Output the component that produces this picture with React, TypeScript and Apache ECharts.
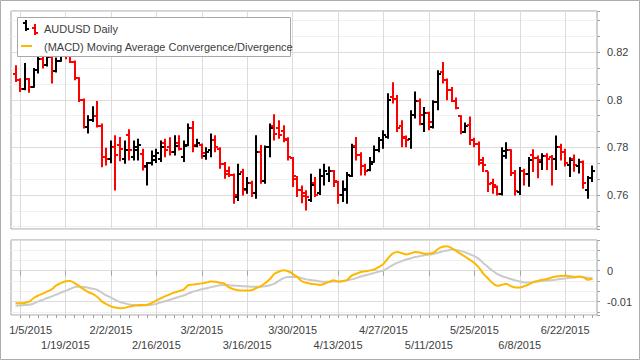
import React, { useEffect, useRef } from 'react';
import * as echarts from 'echarts';

const startDate = '2015-01-02';
const endDate = '2015-06-30';
const tickLabels = ['1/5/2015', '1/19/2015', '2/2/2015', '2/16/2015', '3/2/2015', '3/16/2015', '3/30/2015', '4/13/2015', '4/27/2015', '5/11/2015', '5/25/2015', '6/8/2015', '6/22/2015'];

const opens = [0.8110,0.8085,0.8047,0.8088,0.8055,0.8125,0.8170,0.8145,0.8180,0.8120,
 0.8165,0.8195,0.8185,0.8160,0.8090,0.8000,0.7885,0.7914,0.7930,0.7888,
 0.7760,0.7752,0.7801,0.7810,0.7750,0.7850,0.7760,0.7790,0.7773,0.7720,
 0.7734,0.7745,0.7750,0.7820,0.7800,0.7780,0.7820,0.7760,0.7810,0.7880,
 0.7805,0.7810,0.7765,0.7790,0.7830,0.7795,0.7730,0.7700,0.7685,0.7590,
 0.7695,0.7625,0.7650,0.7610,0.7780,0.7660,0.7800,0.7890,0.7880,0.7870,
 0.7835,0.7755,0.7665,0.7620,0.7610,0.7580,0.7650,0.7610,0.7680,0.7690,
 0.7700,0.7655,0.7598,0.7620,0.7680,0.7805,0.7770,0.7720,0.7705,0.7740,
 0.7787,0.7830,0.7845,0.8010,0.8005,0.7890,0.7845,0.7835,0.7935,0.7995,
 0.7900,0.7945,0.7885,0.7990,0.8115,0.8085,0.8040,0.7995,0.7930,0.7865,
 0.7895,0.7830,0.7815,0.7745,0.7700,0.7650,0.7635,0.7603,0.7765,0.7790,
 0.7692,0.7612,0.7700,0.7690,0.7770,0.7755,0.7738,0.7765,0.7760,0.7750,
 0.7800,0.7780,0.7725,0.7750,0.7720,0.7740,0.7620,0.7670];

const highs = [0.8145,0.8090,0.8155,0.8092,0.8133,0.8187,0.8190,0.8200,0.8215,0.8178,
 0.8210,0.8240,0.8200,0.8165,0.8095,0.8005,0.7935,0.7973,0.7995,0.7900,
 0.7798,0.7829,0.7851,0.7844,0.7829,0.7876,0.7829,0.7836,0.7794,0.7738,
 0.7787,0.7794,0.7829,0.7836,0.7843,0.7851,0.7851,0.7829,0.7900,0.7911,
 0.7836,0.7816,0.7801,0.7858,0.7851,0.7800,0.7738,0.7720,0.7690,0.7731,
 0.7710,0.7675,0.7660,0.7851,0.7810,0.7808,0.7900,0.7939,0.7914,0.7893,
 0.7843,0.7760,0.7680,0.7640,0.7620,0.7689,0.7675,0.7710,0.7731,0.7720,
 0.7705,0.7660,0.7661,0.7696,0.7815,0.7844,0.7780,0.7731,0.7760,0.7808,
 0.7844,0.7872,0.8027,0.8074,0.8020,0.7914,0.7850,0.7956,0.8035,0.8005,
 0.7970,0.7950,0.7998,0.8124,0.8159,0.8089,0.8054,0.8010,0.7935,0.7905,
 0.7930,0.7840,0.7825,0.7760,0.7700,0.7668,0.7640,0.7801,0.7822,0.7792,
 0.7705,0.7717,0.7710,0.7760,0.7792,0.7766,0.7775,0.7775,0.7768,0.7850,
 0.7815,0.7794,0.7758,0.7770,0.7752,0.7745,0.7680,0.7724];

const lows = [0.8075,0.8033,0.8040,0.8029,0.8050,0.8110,0.8131,0.8140,0.8068,0.8115,
 0.8160,0.8170,0.8155,0.8082,0.7991,0.7879,0.7858,0.7907,0.7883,0.7716,
 0.7724,0.7733,0.7619,0.7742,0.7731,0.7745,0.7745,0.7745,0.7703,0.7640,
 0.7724,0.7734,0.7738,0.7759,0.7766,0.7766,0.7787,0.7738,0.7805,0.7780,
 0.7801,0.7752,0.7748,0.7759,0.7780,0.7710,0.7668,0.7675,0.7563,0.7575,
 0.7598,0.7605,0.7591,0.7584,0.7647,0.7647,0.7759,0.7829,0.7836,0.7822,
 0.7745,0.7633,0.7591,0.7565,0.7535,0.7570,0.7591,0.7600,0.7640,0.7655,
 0.7633,0.7563,0.7570,0.7563,0.7675,0.7745,0.7682,0.7682,0.7700,0.7735,
 0.7780,0.7794,0.7836,0.7984,0.7865,0.7801,0.7801,0.7794,0.7921,0.7893,
 0.7865,0.7872,0.7879,0.7956,0.8068,0.7998,0.7991,0.7960,0.7855,0.7860,
 0.7810,0.7800,0.7724,0.7696,0.7612,0.7605,0.7598,0.7598,0.7752,0.7680,
 0.7598,0.7600,0.7640,0.7635,0.7696,0.7670,0.7705,0.7705,0.7640,0.7705,
 0.7745,0.7720,0.7675,0.7698,0.7690,0.7626,0.7584,0.7655];

const closes = [0.8085,0.8047,0.8088,0.8055,0.8125,0.8170,0.8145,0.8180,0.8120,0.8165,
 0.8195,0.8185,0.8160,0.8090,0.8000,0.7885,0.7914,0.7930,0.7888,0.7760,
 0.7752,0.7801,0.7766,0.7795,0.7790,0.7790,0.7800,0.7810,0.7717,0.7734,
 0.7765,0.7775,0.7800,0.7790,0.7780,0.7805,0.7795,0.7805,0.7880,0.7810,
 0.7820,0.7775,0.7780,0.7830,0.7800,0.7730,0.7690,0.7685,0.7600,0.7690,
 0.7620,0.7650,0.7610,0.7780,0.7660,0.7800,0.7880,0.7855,0.7850,0.7830,
 0.7760,0.7680,0.7620,0.7595,0.7590,0.7640,0.7600,0.7680,0.7700,0.7700,
 0.7660,0.7598,0.7626,0.7682,0.7801,0.7770,0.7720,0.7700,0.7730,0.7787,
 0.7830,0.7851,0.8000,0.8005,0.7880,0.7840,0.7830,0.7935,0.7995,0.7935,
 0.7945,0.7905,0.7990,0.8110,0.8085,0.8040,0.7995,0.7965,0.7865,0.7890,
 0.7830,0.7815,0.7735,0.7725,0.7647,0.7640,0.7602,0.7785,0.7790,0.7692,
 0.7615,0.7700,0.7688,0.7745,0.7755,0.7745,0.7765,0.7752,0.7750,0.7800,
 0.7780,0.7735,0.7745,0.7725,0.7740,0.7650,0.7670,0.7700];

const macdLine = [-0.0105,-0.0105,-0.0104,-0.0100,-0.0088,-0.0080,-0.0074,-0.0067,-0.0060,-0.0047,
 -0.0040,-0.0034,-0.0033,-0.0040,-0.0050,-0.0060,-0.0069,-0.0075,-0.0085,-0.0099,
 -0.0108,-0.0115,-0.0119,-0.0121,-0.0120,-0.0116,-0.0113,-0.0111,-0.0111,-0.0110,
 -0.0104,-0.0096,-0.0089,-0.0082,-0.0076,-0.0070,-0.0066,-0.0061,-0.0047,-0.0045,
 -0.0043,-0.0041,-0.0038,-0.0035,-0.0036,-0.0039,-0.0042,-0.0054,-0.0060,-0.0063,
 -0.0064,-0.0064,-0.0063,-0.0056,-0.0050,-0.0040,-0.0027,-0.0010,-0.0003,0.0001,
 -0.0002,-0.0010,-0.0020,-0.0034,-0.0039,-0.0042,-0.0044,-0.0046,-0.0042,-0.0036,
 -0.0031,-0.0035,-0.0034,-0.0030,-0.0016,-0.0010,-0.0004,-0.0002,0.0001,0.0004,
 0.0012,0.0022,0.0040,0.0055,0.0060,0.0057,0.0052,0.0056,0.0060,0.0059,
 0.0055,0.0055,0.0058,0.0070,0.0077,0.0079,0.0073,0.0064,0.0054,0.0045,
 0.0035,0.0025,0.0010,-0.0010,-0.0025,-0.0040,-0.0049,-0.0046,-0.0042,-0.0050,
 -0.0054,-0.0054,-0.0050,-0.0044,-0.0037,-0.0033,-0.0029,-0.0027,-0.0022,-0.0019,
 -0.0017,-0.0016,-0.0018,-0.0020,-0.0019,-0.0021,-0.0029,-0.0026];

const signalLine = [-0.0113,-0.0112,-0.0111,-0.0110,-0.0106,-0.0099,-0.0094,-0.0088,-0.0083,-0.0077,
 -0.0071,-0.0065,-0.0059,-0.0053,-0.0051,-0.0053,-0.0055,-0.0058,-0.0062,-0.0071,
 -0.0080,-0.0087,-0.0095,-0.0101,-0.0105,-0.0109,-0.0111,-0.0113,-0.0112,-0.0111,
 -0.0110,-0.0107,-0.0102,-0.0098,-0.0094,-0.0089,-0.0084,-0.0080,-0.0074,-0.0068,
 -0.0064,-0.0060,-0.0057,-0.0053,-0.0050,-0.0047,-0.0046,-0.0047,-0.0048,-0.0049,
 -0.0050,-0.0051,-0.0052,-0.0052,-0.0052,-0.0050,-0.0047,-0.0042,-0.0032,-0.0024,
 -0.0020,-0.0020,-0.0020,-0.0024,-0.0028,-0.0030,-0.0032,-0.0035,-0.0036,-0.0036,
 -0.0035,-0.0035,-0.0033,-0.0031,-0.0028,-0.0024,-0.0019,-0.0015,-0.0011,-0.0007,
 -0.0003,0.0001,0.0009,0.0018,0.0025,0.0031,0.0036,0.0040,0.0044,0.0047,
 0.0050,0.0052,0.0054,0.0058,0.0062,0.0065,0.0068,0.0067,0.0064,0.0059,
 0.0053,0.0047,0.0038,0.0024,0.0012,0.0000,-0.0010,-0.0017,-0.0022,-0.0027,
 -0.0031,-0.0035,-0.0038,-0.0038,-0.0036,-0.0035,-0.0033,-0.0032,-0.0031,-0.0029,
 -0.0027,-0.0025,-0.0023,-0.0022,-0.0020,-0.0021,-0.0023,-0.0025];

function businessDays(start: string, end: string): string[] {
  const out: string[] = [];
  const d = new Date(start + 'T00:00:00Z');
  const e = new Date(end + 'T00:00:00Z');
  while (d.getTime() <= e.getTime()) {
    const wd = d.getUTCDay();
    if (wd !== 0 && wd !== 6) out.push(`${d.getUTCMonth() + 1}/${d.getUTCDate()}/${d.getUTCFullYear()}`);
    d.setUTCDate(d.getUTCDate() + 1);
  }
  return out;
}

const dates = businessDays(startDate, endDate);
// one empty slot at each end gives the side margin of the original axis
const categories = ['', ...dates, ''];

const FONT = 'Liberation Sans';
const TEXT = '#404040';
const GRIDC = '#dcdcdc';
const MINORC = '#f0f0f0';
const AXISC = '#a0a0a0';

const isMajor = (idx: number) => tickLabels.indexOf(categories[idx]) >= 0;
const isMinor = (idx: number) => idx >= 1 && idx <= dates.length && (idx - 1) % 2 === 1;

export default function App() {
  const ref = useRef<HTMLDivElement>(null);
  useEffect(() => {
    if (!ref.current) return;
    const chart = echarts.init(ref.current, undefined, { renderer: 'svg' });
    const ohlc = dates.map((_, i) => [i + 1, opens[i], highs[i], lows[i], closes[i]]);
    const macdData = macdLine.map((v, i) => [i + 1, v]);
    const signalData = signalLine.map((v, i) => [i + 1, v]);

    const renderOhlc = (params: any, api: any) => {
      const x = api.value(0);
      const o = api.value(1), h = api.value(2), l = api.value(3), c = api.value(4);
      const pH = api.coord([x, h]);
      const pL = api.coord([x, l]);
      const pO = api.coord([x, o]);
      const pC = api.coord([x, c]);
      const px = Math.round(pH[0]);
      const color = c >= o ? '#000000' : '#ff0000';
      const st = { stroke: color, lineWidth: 2 };
      return {
        type: 'group',
        children: [
          { type: 'line', shape: { x1: px, y1: pH[1], x2: px, y2: pL[1] }, style: st },
          { type: 'line', shape: { x1: px - 3, y1: Math.round(pO[1]), x2: px, y2: Math.round(pO[1]) }, style: st },
          { type: 'line', shape: { x1: px, y1: Math.round(pC[1]), x2: px + 3, y2: Math.round(pC[1]) }, style: st },
        ],
      };
    };

    const yLabel = { color: TEXT, fontFamily: FONT, fontSize: 11, margin: 10, showMinLabel: false, showMaxLabel: false };

    const option: any = {
      animation: false,
      backgroundColor: '#ffffff',
      grid: [
        { left: 11, top: 11, width: 586, height: 218, show: true, borderColor: AXISC, borderWidth: 1, backgroundColor: 'transparent', outerBoundsMode: 'none' },
        { left: 11, top: 240, width: 586, height: 75, show: true, borderColor: AXISC, borderWidth: 1, backgroundColor: 'transparent', outerBoundsMode: 'none' },
      ],
      xAxis: [
        {
          type: 'category', gridIndex: 0, data: categories, boundaryGap: false,
          axisLine: { show: false }, axisTick: { show: false }, axisLabel: { show: false },
          splitLine: { show: true, interval: (idx: number) => isMajor(idx), lineStyle: { color: GRIDC, width: 1 } },
        },
        {
          type: 'category', gridIndex: 1, data: categories, boundaryGap: false, position: 'bottom',
          axisLine: { show: false },
          axisTick: { show: true, interval: (idx: number) => isMajor(idx), length: 5, lineStyle: { color: AXISC } },
          axisLabel: {
            show: true, interval: 0, margin: 7, lineHeight: 15, hideOverlap: false,
            color: TEXT, fontFamily: FONT, fontSize: 11,
            formatter: (value: string) => {
              const k = tickLabels.indexOf(value);
              if (k < 0) return '';
              if (k === 0) return '{first|' + value + '}';
              return k % 2 === 0 ? value : '\n' + value;
            },
            rich: {
              first: { padding: [0, 0, 0, 21], color: TEXT, fontFamily: FONT, fontSize: 11, lineHeight: 15 },
            },
          },
          splitLine: { show: true, interval: (idx: number) => isMajor(idx), lineStyle: { color: GRIDC, width: 1 } },
        },
        {
          type: 'category', gridIndex: 1, data: categories, boundaryGap: false, position: 'bottom',
          axisLine: { show: false }, axisLabel: { show: false }, splitLine: { show: false },
          axisTick: { show: true, interval: (idx: number) => isMinor(idx), length: 3, lineStyle: { color: AXISC } },
        },
      ],
      yAxis: [
        {
          type: 'value', gridIndex: 0, position: 'right', min: 0.7457, max: 0.8373, splitNumber: 5, scale: true,
          axisLine: { show: false },
          axisTick: { show: true, length: 3, lineStyle: { color: AXISC } },
          minorTick: { show: true, splitNumber: 3, length: 3, lineStyle: { color: AXISC } },
          axisLabel: yLabel,
          splitLine: { show: true, lineStyle: { color: GRIDC, width: 1 } },
          minorSplitLine: { show: true, lineStyle: { color: MINORC, width: 1 } },
        },
        {
          type: 'value', gridIndex: 1, position: 'right', min: -0.0143, max: 0.0099, splitNumber: 2, scale: true,
          axisLine: { show: false },
          axisTick: { show: true, length: 3, lineStyle: { color: AXISC } },
          minorTick: { show: true, splitNumber: 3, length: 3, lineStyle: { color: AXISC } },
          axisLabel: yLabel,
          splitLine: { show: true, lineStyle: { color: GRIDC, width: 1 } },
          minorSplitLine: { show: true, lineStyle: { color: MINORC, width: 1 } },
        },
      ],
      series: [
        {
          name: 'AUDUSD Daily', type: 'custom', xAxisIndex: 0, yAxisIndex: 0, data: ohlc,
          encode: { x: 0, y: [1, 2, 3, 4] }, renderItem: renderOhlc, clip: true, z: 3,
        },
        {
          name: 'Signal', type: 'line', xAxisIndex: 1, yAxisIndex: 1, data: signalData,
          symbol: 'none', showSymbol: false, smooth: 0.3, lineStyle: { color: '#cacaca', width: 2 }, z: 3,
        },
        {
          name: '(MACD) Moving Average Convergence/Divergence', type: 'line', xAxisIndex: 1, yAxisIndex: 1, data: macdData,
          symbol: 'none', showSymbol: false, smooth: 0.3, lineStyle: { color: '#ffb800', width: 2 }, z: 4,
        },
      ],
      graphic: [
        { type: 'rect', z: 100, silent: true, shape: { x: 0.5, y: 0.5, width: 639, height: 359 }, style: { fill: 'none', stroke: '#acacac', lineWidth: 1 } },
        { type: 'rect', z: 100, silent: true, shape: { x: 17.5, y: 17.5, width: 273, height: 39 }, style: { fill: '#ffffff', stroke: '#a8a8a8', lineWidth: 1 } },
        { type: 'line', z: 101, silent: true, shape: { x1: 26, y1: 20, x2: 26, y2: 31 }, style: { stroke: '#000000', lineWidth: 2 } },
        { type: 'line', z: 101, silent: true, shape: { x1: 23, y1: 23, x2: 26, y2: 23 }, style: { stroke: '#000000', lineWidth: 2 } },
        { type: 'line', z: 101, silent: true, shape: { x1: 26, y1: 29, x2: 29, y2: 29 }, style: { stroke: '#000000', lineWidth: 2 } },
        { type: 'line', z: 101, silent: true, shape: { x1: 35, y1: 24, x2: 35, y2: 35 }, style: { stroke: '#ff0000', lineWidth: 2 } },
        { type: 'line', z: 101, silent: true, shape: { x1: 32, y1: 28, x2: 35, y2: 28 }, style: { stroke: '#ff0000', lineWidth: 2 } },
        { type: 'line', z: 101, silent: true, shape: { x1: 35, y1: 33, x2: 38, y2: 33 }, style: { stroke: '#ff0000', lineWidth: 2 } },
        { type: 'line', z: 101, silent: true, shape: { x1: 21, y1: 46, x2: 32, y2: 46 }, style: { stroke: '#ffb800', lineWidth: 2 } },
        { type: 'text', z: 101, silent: true, x: 44, y: 28.5, style: { text: 'AUDUSD Daily', fill: TEXT, fontFamily: FONT, fontSize: 11, verticalAlign: 'middle' } },
        { type: 'text', z: 101, silent: true, x: 44, y: 46.5, style: { text: '(MACD) Moving Average Convergence/Divergence', fill: TEXT, fontFamily: FONT, fontSize: 11, verticalAlign: 'middle' } },
      ],
    };
    chart.setOption(option);
    return () => chart.dispose();
  }, []);
  return <div ref={ref} style={{ position: 'fixed', left: 0, top: 0, width: 640, height: 360, background: '#ffffff' }} />;
}
